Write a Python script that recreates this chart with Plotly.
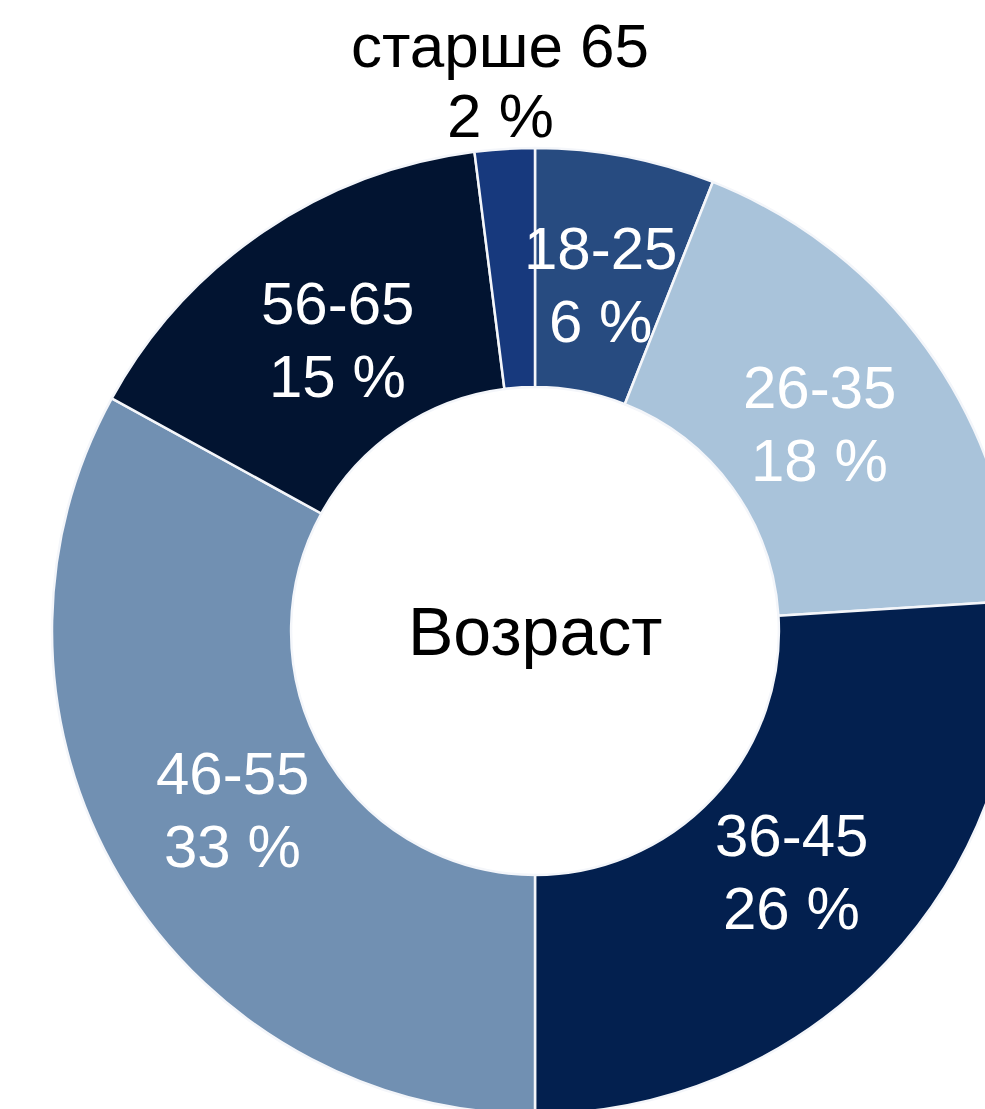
import math
import plotly.graph_objects as go

categories = ["18-25", "26-35", "36-45", "46-55", "56-65", "старше 65"]
values = [6, 18, 26, 33, 15, 2]
colors = ["#274b80", "#a9c3da", "#03204f", "#7190b2", "#021431", "#17397d"]
center_title = "Возраст"

W, H = 1070, 1120
top_px, bottom_px = 148, 1114
y0 = (H - bottom_px) / H
y1 = (H - top_px) / H
R = (bottom_px - top_px) / 2
cx, cy = W / 2, (top_px + bottom_px) / 2
hole = 0.505

fig = go.Figure(go.Pie(
    labels=categories,
    values=values,
    sort=False,
    direction="clockwise",
    rotation=0,
    hole=hole,
    marker=dict(colors=colors, line=dict(color="#f4f6fa", width=2.5)),
    textinfo="none",
    hoverinfo="label+percent",
    showlegend=False,
    domain=dict(x=[0, 1], y=[y0, y1]),
))

font_family = "Liberation Sans, Arial, sans-serif"
annotations = []
total = sum(values)
cum = 0
for cat, v in zip(categories, values):
    mid = (cum + v / 2) / total * 2 * math.pi
    cum += v
    outside = v / total < 0.03
    r = 552 if outside else 352
    px = cx + r * math.sin(mid)
    py = cy - r * math.cos(mid)
    size = 62 if outside else 60
    half_gap = 35 if outside else 36.5
    color = "black" if outside else "white"
    for line_text, dy in ((cat, -half_gap), (f"{v} %", half_gap)):
        annotations.append(dict(
            x=px / W, y=(H - (py + dy)) / H, xref="paper", yref="paper",
            text=line_text, showarrow=False,
            font=dict(family=font_family, size=size, color=color),
            xanchor="center", yanchor="middle",
        ))
annotations.append(dict(
    x=cx / W, y=(H - cy) / H, xref="paper", yref="paper",
    text=center_title, showarrow=False,
    font=dict(family=font_family, size=68, color="black"),
    xanchor="center", yanchor="middle",
))

fig.update_layout(
    width=W, height=H,
    margin=dict(l=0, r=0, t=0, b=0),
    paper_bgcolor="white", plot_bgcolor="white",
    annotations=annotations,
)

fig.write_html(
    "out.html",
    post_script="document.body.style.margin='0';document.body.style.overflow='hidden';document.documentElement.style.overflow='hidden';",
)
